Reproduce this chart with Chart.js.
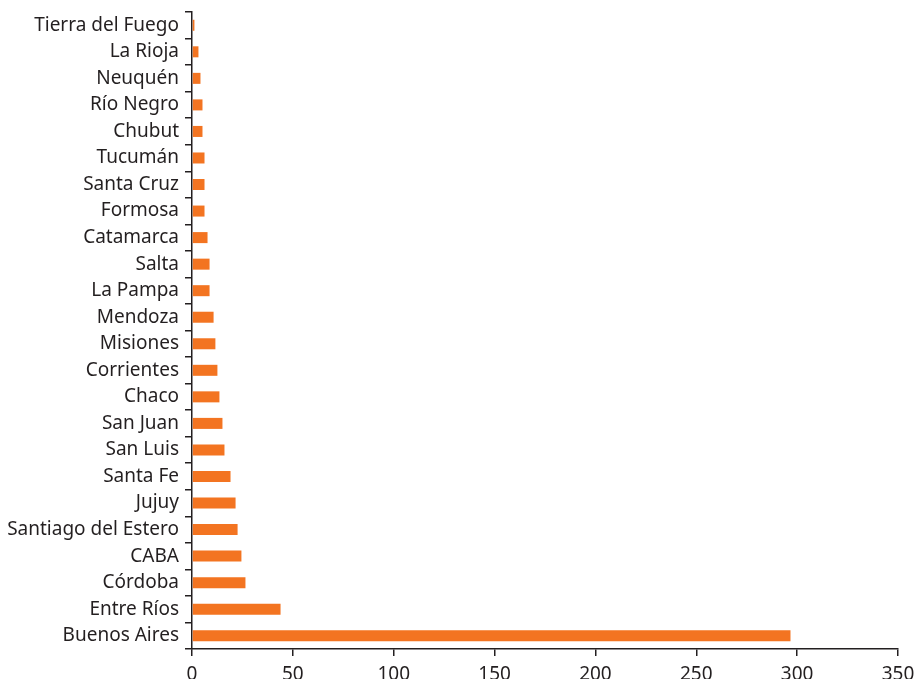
<!DOCTYPE html>
<html>
<head>
<meta charset="utf-8">
<script src="https://cdn.jsdelivr.net/npm/chart.js@4"></script>
<style>
  html, body { margin: 0; padding: 0; background: #fff; }
  #wrap { width: 923px; height: 679px; }
</style>
</head>
<body>
<div id="wrap"><canvas id="chart" width="923" height="679"></canvas></div>
<script>
// Provinces, top to bottom as in the chart
const provinces = [
  "Tierra del Fuego", "La Rioja", "Neuquén", "Río Negro", "Chubut", "Tucumán",
  "Santa Cruz", "Formosa", "Catamarca", "Salta", "La Pampa", "Mendoza",
  "Misiones", "Corrientes", "Chaco", "San Juan", "San Luis", "Santa Fe",
  "Jujuy", "Santiago del Estero", "CABA", "Córdoba", "Entre Ríos", "Buenos Aires",
];

// Values
const values = [
  1.2, 3.2, 4.2, 5.2, 5.2, 6.2,
  6.2, 6.2, 7.7, 8.7, 8.7, 10.7,
  11.6, 12.6, 13.6, 15.1, 16.1, 19.1,
  21.6, 22.6, 24.5, 26.5, 43.9, 296.7,
];

// X axis ticks
const xTicks = [0, 50, 100, 150, 200, 250, 300, 350];

const textColor = "#231f20";
const axisColor = "#231f20";
const fontFamily = "'Noto Sans', 'Open Sans', sans-serif";

new Chart(document.querySelector("#chart"), {
  type: "bar",
  data: {
    labels: provinces,
    datasets: [
      {
        data: values,
        backgroundColor: "#f37421",
        borderWidth: 0,
        barPercentage: 0.83,
        categoryPercentage: 0.5,
      },
    ],
  },
  options: {
    indexAxis: "y",
    responsive: false,
    animation: false,
    layout: { padding: { top: 12, right: 25, bottom: 0, left: 0 } },
    plugins: {
      legend: { display: false },
      tooltip: { enabled: false },
    },
    scales: {
      x: {
        min: 0,
        max: 350,
        afterBuildTicks: (scale) => {
          scale.ticks = xTicks.map((v) => ({ value: v }));
        },
        afterFit: (scale) => {
          scale.height = 30;
        },
        border: { color: axisColor, width: 1.5 },
        grid: {
          drawOnChartArea: false,
          drawTicks: true,
          tickLength: 7,
          color: axisColor,
          lineWidth: 1.5,
        },
        ticks: {
          color: textColor,
          padding: 7,
          maxRotation: 0,
          font: { family: fontFamily, size: 19 },
        },
      },
      y: {
        afterFit: (scale) => {
          scale.width = 192;
          // don't let the first/last label push the plot area
          scale.paddingTop = 0;
          scale.paddingBottom = 0;
        },
        border: { color: axisColor, width: 1.5 },
        grid: {
          offset: true,
          drawOnChartArea: false,
          drawTicks: true,
          tickLength: 7,
          color: axisColor,
          lineWidth: 1.5,
        },
        ticks: {
          color: textColor,
          padding: 6,
          autoSkip: false,
          font: { family: fontFamily, size: 19 },
        },
      },
    },
  },
});
</script>
</body>
</html>
